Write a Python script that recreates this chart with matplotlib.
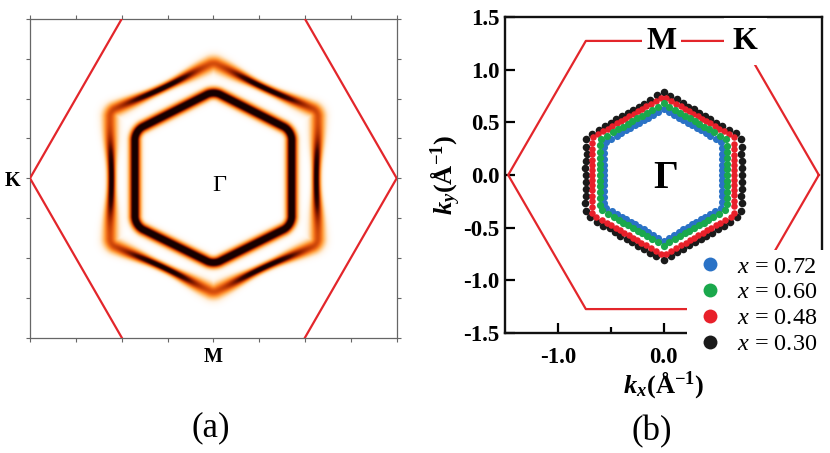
import numpy as np
import matplotlib
matplotlib.use('Agg')
import matplotlib.pyplot as plt
from matplotlib.colors import LinearSegmentedColormap
from matplotlib.lines import Line2D
from matplotlib.patches import Rectangle

plt.rcParams['font.family'] = ['Liberation Serif', 'DejaVu Serif']
plt.rcParams['mathtext.fontset'] = 'custom'
plt.rcParams['mathtext.rm'] = 'Liberation Serif'
plt.rcParams['mathtext.it'] = 'Liberation Serif:italic'
plt.rcParams['mathtext.bf'] = 'Liberation Serif:bold'
try:
    plt.rcParams['mathtext.bfit'] = 'Liberation Serif:italic:bold'
    BFIT = True
except KeyError:
    BFIT = False

# ---------------- data: panel (a) ----------------
SQ3H = np.sqrt(3) / 2
bz_a_left_x = [-0.5, -1.0, -0.5]
bz_a_right_x = [0.5, 1.0, 0.5]
bz_a_y = [SQ3H, 0.0, -SQ3H]
a_xticks = [-1, -0.75, -0.5, -0.25, 0, 0.25, 0.5, 0.75, 1]
a_yticks = list(np.linspace(-SQ3H, SQ3H, 9))
a_xticklabels = ['', '', '', '', 'M', '', '', '', '']
a_yticklabels = ['', '', '', '', 'K', '', '', '', '']

# Fermi-surface contours (corner points, counter-clockwise from the top)
inner_vx = [0.0, -0.428, -0.428, 0.0, 0.426, 0.426]
inner_vy = [0.478, 0.258, -0.253, -0.470, -0.253, 0.258]
inner_round = 0.085
inner_band = [1.15, 0.021]            # peak intensity, width
outer_vx = [0.0, -0.563, -0.563, 0.0, 0.568, 0.568]
outer_vy = [0.632, 0.366, -0.356, -0.622, -0.356, 0.366]
outer_round = 0.05
outer_concave = 0.008
outer_peak = [1.05, 0.60]             # mid-edge, corner
outer_width = [0.016, 0.029]          # mid-edge, corner

# ---------------- data: panel (b) ----------------
bz_b_x = [1.47, 0.735, -0.735, -1.47, -0.735, 0.735, 1.47]
bz_b_y = [0.0, 1.273, 1.273, 0.0, -1.273, -1.273, 0.0]

labels_b = ['$x$ = 0.72', '$x$ = 0.60', '$x$ = 0.48', '$x$ = 0.30']
colors_b = ['#2a72c6', '#1aa84c', '#e8202a', '#1a1a1a']

ang_5 = np.arange(0, 360, 5)
ang_4 = np.arange(0, 360, 4)

r_030 = [0.740, 0.748, 0.751, 0.762, 0.790, 0.812,
         0.788, 0.752, 0.724, 0.698, 0.690, 0.686, 0.680, 0.690, 0.688, 0.704, 0.728, 0.752, 0.790,
         0.758, 0.724, 0.700, 0.684, 0.683, 0.676, 0.683, 0.692, 0.704, 0.720, 0.750, 0.782,
         0.808, 0.782, 0.754, 0.746, 0.745, 0.738, 0.738, 0.748, 0.761, 0.786, 0.811, 0.806,
         0.772, 0.752, 0.718, 0.711, 0.712, 0.700, 0.703, 0.716, 0.725, 0.748, 0.776, 0.810,
         0.772, 0.741, 0.728, 0.711, 0.700, 0.704, 0.703, 0.713, 0.725, 0.750, 0.770, 0.806,
         0.814, 0.788, 0.764, 0.752, 0.743]

r_048 = [0.670, 0.672, 0.677, 0.685, 0.697, 0.713, 0.733, 0.759,
         0.731, 0.706, 0.686, 0.671, 0.659, 0.651, 0.647, 0.645, 0.647, 0.651, 0.659, 0.671, 0.686, 0.706, 0.731,
         0.731, 0.706, 0.686, 0.671, 0.659, 0.651, 0.647, 0.645, 0.647, 0.651, 0.659, 0.671, 0.686, 0.706, 0.731, 0.761,
         0.744, 0.724, 0.707, 0.695, 0.687, 0.682, 0.680, 0.682, 0.687, 0.695, 0.707, 0.724, 0.744, 0.770,
         0.748, 0.722, 0.702, 0.687, 0.675, 0.666, 0.662, 0.660, 0.662, 0.666, 0.675, 0.687, 0.702, 0.722, 0.748,
         0.748, 0.722, 0.702, 0.687, 0.675, 0.666, 0.662, 0.660, 0.662, 0.666, 0.675, 0.687, 0.702, 0.722, 0.748,
         0.759, 0.733, 0.713, 0.697, 0.685, 0.677, 0.672]

r_060 = [0.600, 0.602, 0.609, 0.621, 0.639, 0.662,
         0.681, 0.651, 0.628, 0.611, 0.599, 0.592, 0.590, 0.592, 0.599, 0.611, 0.628, 0.651, 0.681,
         0.651, 0.628, 0.611, 0.599, 0.592, 0.590, 0.592, 0.599, 0.611, 0.628, 0.651, 0.681,
         0.668, 0.644, 0.626, 0.614, 0.607, 0.605, 0.607, 0.614, 0.626, 0.644, 0.668, 0.670,
         0.640, 0.617, 0.600, 0.589, 0.582, 0.580, 0.582, 0.589, 0.600, 0.617, 0.640, 0.670,
         0.640, 0.617, 0.600, 0.589, 0.582, 0.580, 0.582, 0.589, 0.600, 0.617, 0.640, 0.670,
         0.662, 0.639, 0.621, 0.609, 0.602]

r_072 = [0.555, 0.557, 0.564, 0.575, 0.591, 0.612,
         0.629, 0.601, 0.580, 0.564, 0.553, 0.547, 0.545, 0.547, 0.553, 0.564, 0.580, 0.601, 0.629,
         0.601, 0.580, 0.564, 0.553, 0.547, 0.545, 0.547, 0.553, 0.564, 0.580, 0.601, 0.629,
         0.623, 0.601, 0.585, 0.574, 0.567, 0.565, 0.567, 0.574, 0.585, 0.601, 0.623, 0.624,
         0.596, 0.575, 0.559, 0.548, 0.542, 0.540, 0.542, 0.548, 0.559, 0.575, 0.596, 0.624,
         0.596, 0.575, 0.559, 0.548, 0.542, 0.540, 0.542, 0.548, 0.559, 0.575, 0.596, 0.624,
         0.612, 0.591, 0.575, 0.564, 0.557]

series_b = [  # drawing order: bottom to top
    (ang_5, r_030, colors_b[3], 30),
    (ang_4, r_048, colors_b[2], 22),
    (ang_5, r_072, colors_b[0], 26),
    (ang_5, r_060, colors_b[1], 27),
]


def rounded_polygon_distance(X, Y, vx, vy, rho):
    """signed distance to the boundary of a convex polygon with rounded corners"""
    vx = np.asarray(vx, float)
    vy = np.asarray(vy, float)
    rv = np.hypot(vx, vy)
    shrink = 1 - rho / np.sin(np.pi / 3) / rv
    sx, sy = vx * shrink, vy * shrink
    n = len(sx)
    dmin = np.full(X.shape, np.inf)
    inside = np.ones(X.shape, bool)
    for i in range(n):
        x0, y0 = sx[i], sy[i]
        x1, y1 = sx[(i + 1) % n], sy[(i + 1) % n]
        ex, ey = x1 - x0, y1 - y0
        t = np.clip(((X - x0) * ex + (Y - y0) * ey) / (ex * ex + ey * ey), 0, 1)
        dmin = np.minimum(dmin, np.hypot(X - x0 - t * ex, Y - y0 - t * ey))
        cross = ex * (Y - y0) - ey * (X - x0)
        inside &= cross >= 0
    sd = np.where(inside, -dmin, dmin)
    return sd - rho


# ---------------- figure ----------------
fig = plt.figure(figsize=(8.3, 4.53), dpi=100)

# ----- panel (a) -----
axa = fig.add_axes([30 / 830, 1 - 337.5 / 453, 366.7 / 830, 318.5 / 453])
nx, ny = 760, 660
gx = np.linspace(-1, 1, nx)
gy = np.linspace(-SQ3H, SQ3H, ny)
X, Y = np.meshgrid(gx, gy)

d_in = rounded_polygon_distance(X, Y, inner_vx, inner_vy, inner_round)
I_in = inner_band[0] * np.exp(-0.5 * (d_in / inner_band[1]) ** 2)

phi = np.arctan2(Y, X) - np.pi / 2
cw = (1 + np.cos(6 * phi)) / 2          # 1 at corners, 0 mid-edge
d_out = rounded_polygon_distance(X, Y, outer_vx, outer_vy, outer_round) \
    + outer_concave * (1 - cw)
pk = outer_peak[0] + (outer_peak[1] - outer_peak[0]) * cw ** 1.3
sg = outer_width[0] + (outer_width[1] - outer_width[0]) * cw ** 1.3
I_out = pk * np.exp(-0.5 * (d_out / sg) ** 2)
I = np.clip(I_in + I_out, 0, 1)

cmap = LinearSegmentedColormap.from_list('fs', [
    (0.0, '#ffffff'), (0.08, '#fff2e2'), (0.24, '#ffc886'), (0.40, '#ff9634'),
    (0.56, '#e45a10'), (0.72, '#a02600'), (0.86, '#420600'), (1.0, '#160000')])
axa.imshow(I, extent=[-1, 1, -SQ3H, SQ3H], origin='lower', cmap=cmap,
           vmin=0, vmax=1, interpolation='bilinear', aspect='auto', zorder=1)
axa.plot(bz_a_left_x, bz_a_y, color='#e3262b', lw=1.6, zorder=3)
axa.plot(bz_a_right_x, bz_a_y, color='#e3262b', lw=1.6, zorder=3)
axa.set_xlim(-1, 1)
axa.set_ylim(-SQ3H, SQ3H)
axa.set_xticks(a_xticks)
axa.set_xticklabels(a_xticklabels)
axa.set_yticks(a_yticks)
axa.set_yticklabels(a_yticklabels)
axa.tick_params(direction='out', length=3.2, width=0.8, color='#666666',
                top=True, right=True, labelsize=14.5, pad=4)
for lab in axa.get_xticklabels() + axa.get_yticklabels():
    lab.set_fontweight('bold')
for sp in axa.spines.values():
    sp.set_color('#666666')
    sp.set_linewidth(0.9)
axa.text(0.035, -0.041, 'Γ', fontsize=17.5, ha='center', va='center', zorder=4)

# ----- panel (b) -----
axb = fig.add_axes([505 / 830, 1 - 333 / 453, 317 / 830, 316 / 453])
axb.plot(bz_b_x, bz_b_y, color='#e3262b', lw=1.6, zorder=2)
for angs, rads, col, s in series_b:
    a_r = np.deg2rad(angs)
    rads = np.asarray(rads)
    axb.scatter(rads * np.cos(a_r), rads * np.sin(a_r), s=s, color=col,
                linewidths=0, zorder=3)
axb.set_xlim(-1.5, 1.5)
axb.set_ylim(-1.5, 1.5)
axb.set_xticks([-1.0, 0.0])
axb.set_xticks([-0.5], minor=True)
axb.set_xticklabels(['-1.0', '0.0'])
axb.set_yticks([-1.5, -1.0, -0.5, 0.0, 0.5, 1.0, 1.5])
axb.set_yticklabels(['-1.5', '-1.0', '-0.5', '0.0', '0.5', '1.0', '1.5'])
axb.tick_params(axis='both', which='major', direction='in', length=7.5, width=1.6,
                labelsize=16.5, top=False, right=False)
axb.tick_params(axis='x', which='major', pad=10)
axb.tick_params(axis='y', which='major', pad=4)
axb.tick_params(axis='x', which='minor', direction='in', length=4, width=1.6, top=False)
for lab in axb.get_xticklabels() + axb.get_yticklabels():
    lab.set_fontweight('bold')
for sp in axb.spines.values():
    sp.set_linewidth(1.7)
    sp.set_color('#111111')

if BFIT:
    xl = r'$\mathbfit{k}_{\mathbfit{x}}\mathbf{(Å^{-1})}$'
    yl = r'$\mathbfit{k}_{\mathbfit{y}}\mathbf{(Å^{-1})}$'
else:
    xl = r'$k_x$(Å$^{-1}$)'
    yl = r'$k_y$(Å$^{-1}$)'
axb.set_xlabel(xl, fontsize=19, labelpad=1)
axb.set_ylabel(yl, fontsize=19, labelpad=0)

bbox_w = dict(boxstyle='square,pad=0.15', facecolor='white', edgecolor='none')
axb.text(-0.02, 1.265, 'M', fontsize=23, fontweight='bold', ha='center', va='center',
         bbox=bbox_w, zorder=4)
axb.text(0.775, 1.265, 'K', fontsize=23, fontweight='bold', ha='center', va='center',
         bbox=dict(boxstyle='square,pad=0.28', facecolor='white', edgecolor='none'),
         zorder=4)
axb.text(0.02, -0.03, 'Γ', fontsize=28, fontweight='bold', ha='center', va='center', zorder=4)

# white area behind the legend (hides lines and spines there)
axb.add_patch(Rectangle((0.574, -0.03), 0.6, 0.293, transform=axb.transAxes,
                        facecolor='white', edgecolor='none', zorder=5, clip_on=False))
handles = [Line2D([], [], marker='o', ls='', ms=10, color=c, markeredgewidth=0)
           for c in colors_b]
leg = axb.legend(handles, labels_b, loc='upper left', frameon=False,
                 bbox_to_anchor=(699 / 830, 1 - 255.5 / 453), bbox_transform=fig.transFigure,
                 fontsize=17.5, handlelength=0.9, handletextpad=0.66, labelspacing=0.16,
                 borderpad=0, borderaxespad=0)
leg.set_zorder(6)

fig.text(211 / 830, 1 - 427.5 / 453, '(a)', fontsize=25, ha='center', va='center')
fig.text(652 / 830, 1 - 432 / 453, '(b)', fontsize=25, ha='center', va='center')

fig.savefig('out.png', dpi=100)
